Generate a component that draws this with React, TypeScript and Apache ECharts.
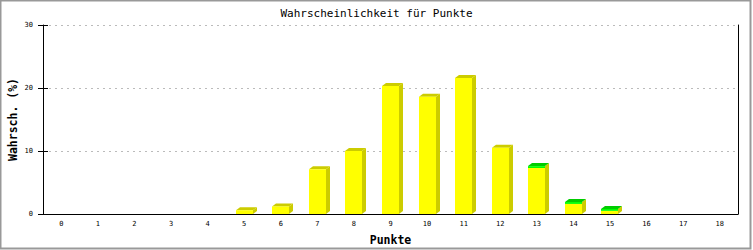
import React, { useEffect, useRef } from "react";
import * as echarts from "echarts";

const categories = ["0","1","2","3","4","5","6","7","8","9","10","11","12","13","14","15","16","17","18"];
const yellowValues = [0, 0, 0, 0, 0, 0.6, 1.2, 7.1, 10.0, 20.3, 18.6, 21.6, 10.5, 7.3, 1.6, 0.5, 0, 0, 0];
const greenValues = [0, 0, 0, 0, 0, 0, 0, 0, 0, 0, 0, 0, 0, 0.3, 0.3, 0.3, 0, 0, 0];
const yTicks = { min: 0, max: 30, interval: 10 };

export default function App() {
  const ref = useRef<HTMLDivElement>(null);
  useEffect(() => {
    if (!ref.current) return;
    const chart = echarts.init(ref.current, null, { renderer: "svg" });
    const mono = "DejaVu Sans Mono";
    const data = categories.map((_, i) => [i, yellowValues[i], greenValues[i]]);
    chart.setOption({
      animation: false,
      backgroundColor: "#ffffff",
      title: {
        text: "Wahrscheinlichkeit für Punkte",
        left: "center",
        top: 3,
        textStyle: { fontFamily: mono, fontSize: 11, fontWeight: "normal", color: "#000" },
      },
      graphic: [
        {
          type: "rect",
          shape: { x: 0.5, y: 0.5, width: 750, height: 248 },
          style: { fill: "none", stroke: "#999999", lineWidth: 2 },
          silent: true,
        },
      ],
      grid: { left: 43, right: 15, top: 25, bottom: 36, containLabel: false, outerBoundsMode: "none" },
      xAxis: {
        type: "category",
        data: categories,
        boundaryGap: true,
        name: "Punkte",
        nameLocation: "middle",
        nameGap: 20,
        nameTextStyle: { fontFamily: mono, fontSize: 11.5, fontWeight: "bold", color: "#000" },
        axisLine: { lineStyle: { color: "#000", width: 1 } },
        axisTick: { show: false },
        axisLabel: { fontFamily: mono, fontSize: 7, color: "#000", margin: 6 },
        splitLine: { show: false },
      },
      yAxis: [
        {
          type: "value",
          ...yTicks,
          name: "Wahrsch. (%)",
          nameLocation: "middle",
          nameGap: 24,
          nameMoveOverlap: false,
          nameTextStyle: { fontFamily: mono, fontSize: 11.5, fontWeight: "bold", color: "#000" },
          axisLine: { show: true, lineStyle: { color: "#000" } },
          axisTick: { show: true, length: 5, lineStyle: { color: "#000" } },
          axisLabel: { fontFamily: mono, fontSize: 7, color: "#000", margin: 10 },
          splitLine: { show: true, lineStyle: { color: "#bbbbbb", type: [2, 4] } },
        },
        {
          type: "value",
          ...yTicks,
          position: "left",
          axisLine: { show: false },
          axisTick: { show: true, inside: true, length: 5, lineStyle: { color: "#000" } },
          axisLabel: { show: false },
          splitLine: { show: false },
        },
        {
          type: "value",
          ...yTicks,
          position: "right",
          axisLine: { show: true, lineStyle: { color: "#000" } },
          axisTick: { show: false },
          axisLabel: { show: false },
          splitLine: { show: false },
        },
      ],
      series: [
        {
          type: "custom",
          data,
          encode: { x: 0, y: [1, 2] },
          clip: false,
          z: 1,
          renderItem: (params: any, api: any) => {
            const cat = api.value(0);
            const yv = api.value(1);
            const gv = api.value(2);
            if (yv + gv <= 0) return { type: "group", children: [] };
            const base = api.coord([cat, 0]);
            const band = api.size([1, 0])[0];
            const w = Math.round(band * 0.47);
            const x0 = Math.round(base[0] - w / 2);
            const x1 = x0 + w;
            const bottom = base[1];
            const topY = api.coord([cat, yv])[1];
            const topAll = api.coord([cat, yv + gv])[1];
            const dx = 4;
            const dy = 3;
            const children: any[] = [
              {
                type: "polygon",
                shape: { points: [[x1, topAll], [x1 + dx, topAll - dy], [x1 + dx, bottom - dy], [x1, bottom]] },
                style: { fill: "#cccc00" },
              },
              {
                type: "polygon",
                shape: { points: [[x0, topAll], [x0 + dx, topAll - dy], [x1 + dx, topAll - dy], [x1, topAll]] },
                style: { fill: gv > 0 ? "#00cc00" : "#cccc00" },
              },
              {
                type: "rect",
                shape: { x: x0, y: topY, width: w, height: bottom - topY },
                style: { fill: "#ffff00" },
              },
            ];
            if (gv > 0) {
              children.push({
                type: "rect",
                shape: { x: x0, y: topAll, width: w, height: topY - topAll },
                style: { fill: "#00ff00" },
              });
            }
            return { type: "group", children };
          },
        },
      ],
    });
    return () => chart.dispose();
  }, []);
  return (
    <div
      ref={ref}
      style={{ position: "absolute", left: 0, top: 0, width: 753, height: 250 }}
    />
  );
}
